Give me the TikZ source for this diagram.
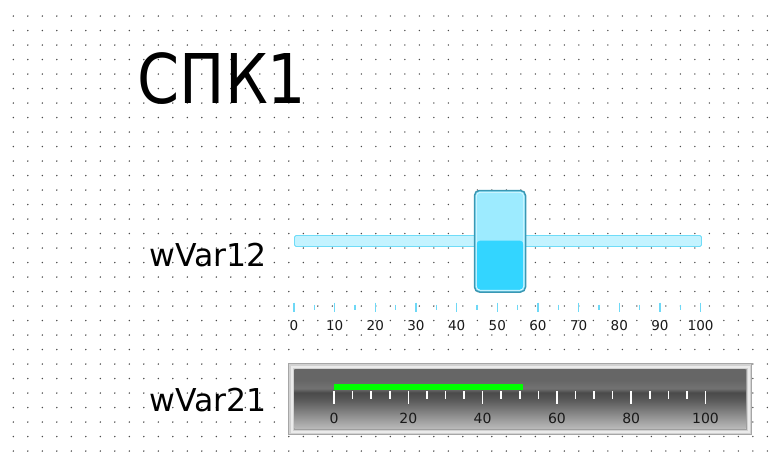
\documentclass[tikz,border=0pt]{standalone}
\usepackage{fontspec}
\setmainfont{DejaVu Sans}
\definecolor{dotc}{HTML}{4A4A4A}
\definecolor{trackfill}{HTML}{C4F3FF}
\definecolor{trackline}{HTML}{6FDCF8}
\definecolor{thumbtop}{HTML}{9DEBFF}
\definecolor{thumbbot}{HTML}{33D5FF}
\definecolor{thumbline}{HTML}{3A98B4}
\definecolor{tickc}{HTML}{6ED8F6}
\definecolor{g1}{HTML}{666666}
\definecolor{g2}{HTML}{727272}
\definecolor{g3}{HTML}{4A4A4A}
\definecolor{g4}{HTML}{5A5A5A}
\definecolor{g5}{HTML}{BABABA}
\pgfdeclareverticalshading{gaugeface}{100bp}{color(0bp)=(g5); color(25bp)=(g5); color(49bp)=(g4); color(55.5bp)=(g3); color(59bp)=(g2); color(66bp)=(g1); color(75bp)=(g1); color(100bp)=(g1)}
\tikzset{
  lab/.style={inner sep=0pt, outer sep=0pt, font=\fontsize{13.5}{14}\selectfont, text=black!90},
  glab/.style={inner sep=0pt, outer sep=0pt, font=\fontsize{14}{15}\selectfont, text=black!90},
  varlab/.style={inner sep=0pt, outer sep=0pt, anchor=base west, font=\fontsize{31.5}{33}\selectfont},
}
\begin{document}
\begin{tikzpicture}[x=1pt,y=-1pt]
\useasboundingbox[fill=white] (0,0) rectangle (776,461);
% slider track
\draw[trackline, fill=trackfill, line width=0.8pt, rounded corners=1.5pt] (294.5,235.5) rectangle (701.5,246.5);
% dot grid
\foreach \i in {0,...,52}
  \foreach \j in {0,...,30}
    \fill[dotc] (13.3+14.5*\i,16+14.5*\j) circle (0.8pt);
% title
\node[inner sep=0pt, outer sep=0pt, anchor=base west] (title) at (137.5,103.5)
  {\scalebox{0.88}[1]{\fontsize{68.6}{70}\selectfont СПК1}};
% labels
\node[varlab] (v12) at (149.5,266) {wVar12};
\node[varlab] (v21) at (149.5,411.5) {wVar21};
% slider ticks and labels
\foreach \k in {0,...,20}{
  \pgfmathsetmacro{\xx}{294+20.33*\k}
  \ifodd\k
    \draw[tickc, line width=1.3pt] (\xx,304.5) -- (\xx,309.5);
  \else
    \draw[tickc, line width=1.3pt] (\xx,302.5) -- (\xx,311.5);
  \fi
}
\foreach \v [count=\c from 0] in {0,10,...,100}
  \node[lab] (s\v) at (294+40.66*\c,326) {\v};
% slider thumb
\draw[thumbline, fill=thumbtop, line width=1.5pt, rounded corners=5pt] (474.5,190.5) rectangle (525.5,292);
\fill[thumbbot, rounded corners=4pt] (476.5,240.5) rectangle (523.5,290);
\draw[white!70!thumbtop, line width=0.6pt, rounded corners=4pt] (476.3,192.3) rectangle (523.7,290.2);
% gauge frame
\draw[fill=black!18, draw=black!35, line width=0.8pt] (288.5,363.5) rectangle (751.5,434.5);
\draw[white!92!black, line width=2pt] (291.5,366.5) rectangle (748.5,431.5);
\draw[black!38, line width=1pt] (294,369) rectangle (746,429);
\shade[shading=gaugeface] (294.5,369.5) rectangle (745.5,428.5);
% green bar
\fill[green] (334,383.5) rectangle (522.5,390);
% gauge ticks
\foreach \k in {0,...,20}{
  \pgfmathsetmacro{\xx}{334+18.575*\k}
  \pgfmathtruncatemacro{\mm}{mod(\k,4)}
  \ifnum\mm=0
    \draw[white, line width=1.6pt] (\xx,391) -- (\xx,403.5);
  \else
    \draw[white, line width=1.6pt] (\xx,391) -- (\xx,398.5);
  \fi
}
\foreach \v [count=\c from 0] in {0,20,...,100}
  \node[glab] (g\v) at (334+74.3*\c,418) {\v};
\end{tikzpicture}
\end{document}
